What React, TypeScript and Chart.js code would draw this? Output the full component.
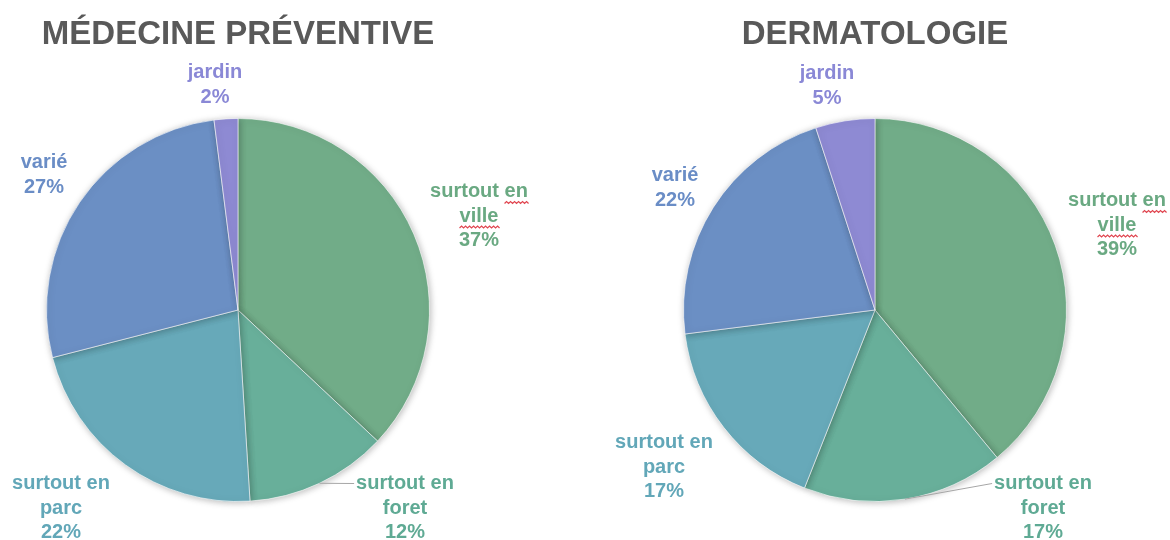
import React, { useEffect, useRef } from "react";
import { Chart, registerables } from "chart.js";

Chart.register(...registerables);

const categories = ["surtout en ville", "surtout en foret", "surtout en parc", "varié", "jardin"];
const labelLines = [["surtout en", "ville"], ["surtout en", "foret"], ["surtout en", "parc"], ["varié"], ["jardin"]];
const medecineValues = [37, 12, 22, 27, 2];
const dermatoValues = [39, 17, 17, 22, 5];
const titles = ["MÉDECINE PRÉVENTIVE", "DERMATOLOGIE"];

const sliceColors = ["#71AC88", "#68AF9A", "#67A9B9", "#6B8FC4", "#8E8AD3"];
const labelColors = ["#6AA982", "#5FAA94", "#62A7B8", "#6A8DC6", "#8A88D6"];

// label layout: offset of the text block centre from the pie centre
const leftOffsets = [[241, -94], [167, 198], [-177, 198], [-194, -135], [-23, -225]];
const rightOffsets = [[242, -85], [168, 198], [-211, 157], [-200, -122], [-48, -224]];

const LINE_H = 24.5;
const LABEL_FONT = "bold 20px 'Liberation Sans', Arial, sans-serif";

function squiggle(ctx: CanvasRenderingContext2D, x0: number, x1: number, y: number) {
  ctx.save();
  ctx.strokeStyle = "#E0454F";
  ctx.lineWidth = 1.2;
  ctx.beginPath();
  let up = true;
  ctx.moveTo(x0, y);
  for (let x = x0; x < x1; x += 2) {
    ctx.lineTo(x + 2, up ? y - 2 : y);
    up = !up;
  }
  ctx.stroke();
  ctx.restore();
}

function makePlugin(title: string, offsets: number[][]) {
  return {
    id: "pieDecor",
    beforeDatasetsDraw(chart: any) {
      const ctx = chart.ctx;
      ctx.save();
      ctx.shadowColor = "rgba(0,0,0,0.28)";
      ctx.shadowBlur = 7;
      ctx.shadowOffsetX = 1;
      ctx.shadowOffsetY = 1;
    },
    afterDatasetsDraw(chart: any) {
      const ctx: CanvasRenderingContext2D = chart.ctx;
      ctx.restore();
      const meta = chart.getDatasetMeta(0);
      const arc0 = meta.data[0];
      const cx = arc0.x;
      const cy = arc0.y;
      const r = arc0.outerRadius;
      const values = chart.data.datasets[0].data as number[];

      // title
      ctx.save();
      ctx.fillStyle = "#595959";
      ctx.font = "bold 33px 'Liberation Sans', Arial, sans-serif";
      ctx.textAlign = "center";
      ctx.textBaseline = "middle";
      ctx.fillText(title, cx, 35);
      ctx.restore();

      meta.data.forEach((arc: any, i: number) => {
        const lines = [...labelLines[i], values[i] + "%"];
        const bx = cx + offsets[i][0];
        const by = cy + offsets[i][1];
        const top = by - ((lines.length - 1) * LINE_H) / 2;
        ctx.save();
        ctx.font = LABEL_FONT;
        ctx.fillStyle = labelColors[i];
        ctx.textAlign = "center";
        ctx.textBaseline = "middle";
        lines.forEach((ln, k) => ctx.fillText(ln, bx, top + k * LINE_H));

        // leader line for "foret"
        if (i === 1) {
          const mid = (arc.startAngle + arc.endAngle) / 2;
          const ax = cx + Math.cos(mid) * r;
          const ay = cy + Math.sin(mid) * r;
          const w = ctx.measureText(lines[0]).width;
          ctx.strokeStyle = "#A6A6A6";
          ctx.lineWidth = 1;
          ctx.beginPath();
          ctx.moveTo(ax, ay);
          ctx.lineTo(bx - w / 2 - 2, top);
          ctx.stroke();
        }
        // spell-check squiggles for "ville"
        if (i === 0) {
          const w0 = ctx.measureText(lines[0]).width;
          const wEn = ctx.measureText("en").width;
          const xEnd = bx + w0 / 2;
          squiggle(ctx, xEnd - wEn, xEnd, top + 12);
          const w1 = ctx.measureText(lines[1]).width;
          squiggle(ctx, bx - w1 / 2, bx + w1 / 2, top + LINE_H + 12);
        }
        ctx.restore();
      });
    },
  };
}

function PieCanvas(props: { values: number[]; title: string; offsets: number[][]; padding: any }) {
  const ref = useRef<HTMLCanvasElement>(null);
  useEffect(() => {
    const chart = new Chart(ref.current as HTMLCanvasElement, {
      type: "pie",
      data: {
        labels: categories,
        datasets: [
          {
            data: props.values,
            backgroundColor: sliceColors,
            borderColor: "rgba(255,255,255,0.6)",
            borderWidth: 1,
          },
        ],
      },
      options: {
        animation: false,
        responsive: false,
        layout: { padding: props.padding },
        plugins: { legend: { display: false }, tooltip: { enabled: false } },
      },
      plugins: [makePlugin(props.title, props.offsets)],
    });
    return () => chart.destroy();
  }, []);
  return (
    <canvas
      ref={ref}
      width={1170}
      height={540}
      style={{ position: "absolute", left: 0, top: 0, width: 1170, height: 540 }}
    />
  );
}

export default function App() {
  useEffect(() => {
    document.body.style.margin = "0";
  }, []);
  return (
    <div style={{ position: "fixed", left: 0, top: 0, width: 1170, height: 540, background: "#fff" }}>
      <PieCanvas
        values={medecineValues}
        title={titles[0]}
        offsets={leftOffsets}
        padding={{ left: 46, right: 740, top: 118, bottom: 38 }}
      />
      <PieCanvas
        values={dermatoValues}
        title={titles[1]}
        offsets={rightOffsets}
        padding={{ left: 683, right: 103, top: 118, bottom: 38 }}
      />
    </div>
  );
}
